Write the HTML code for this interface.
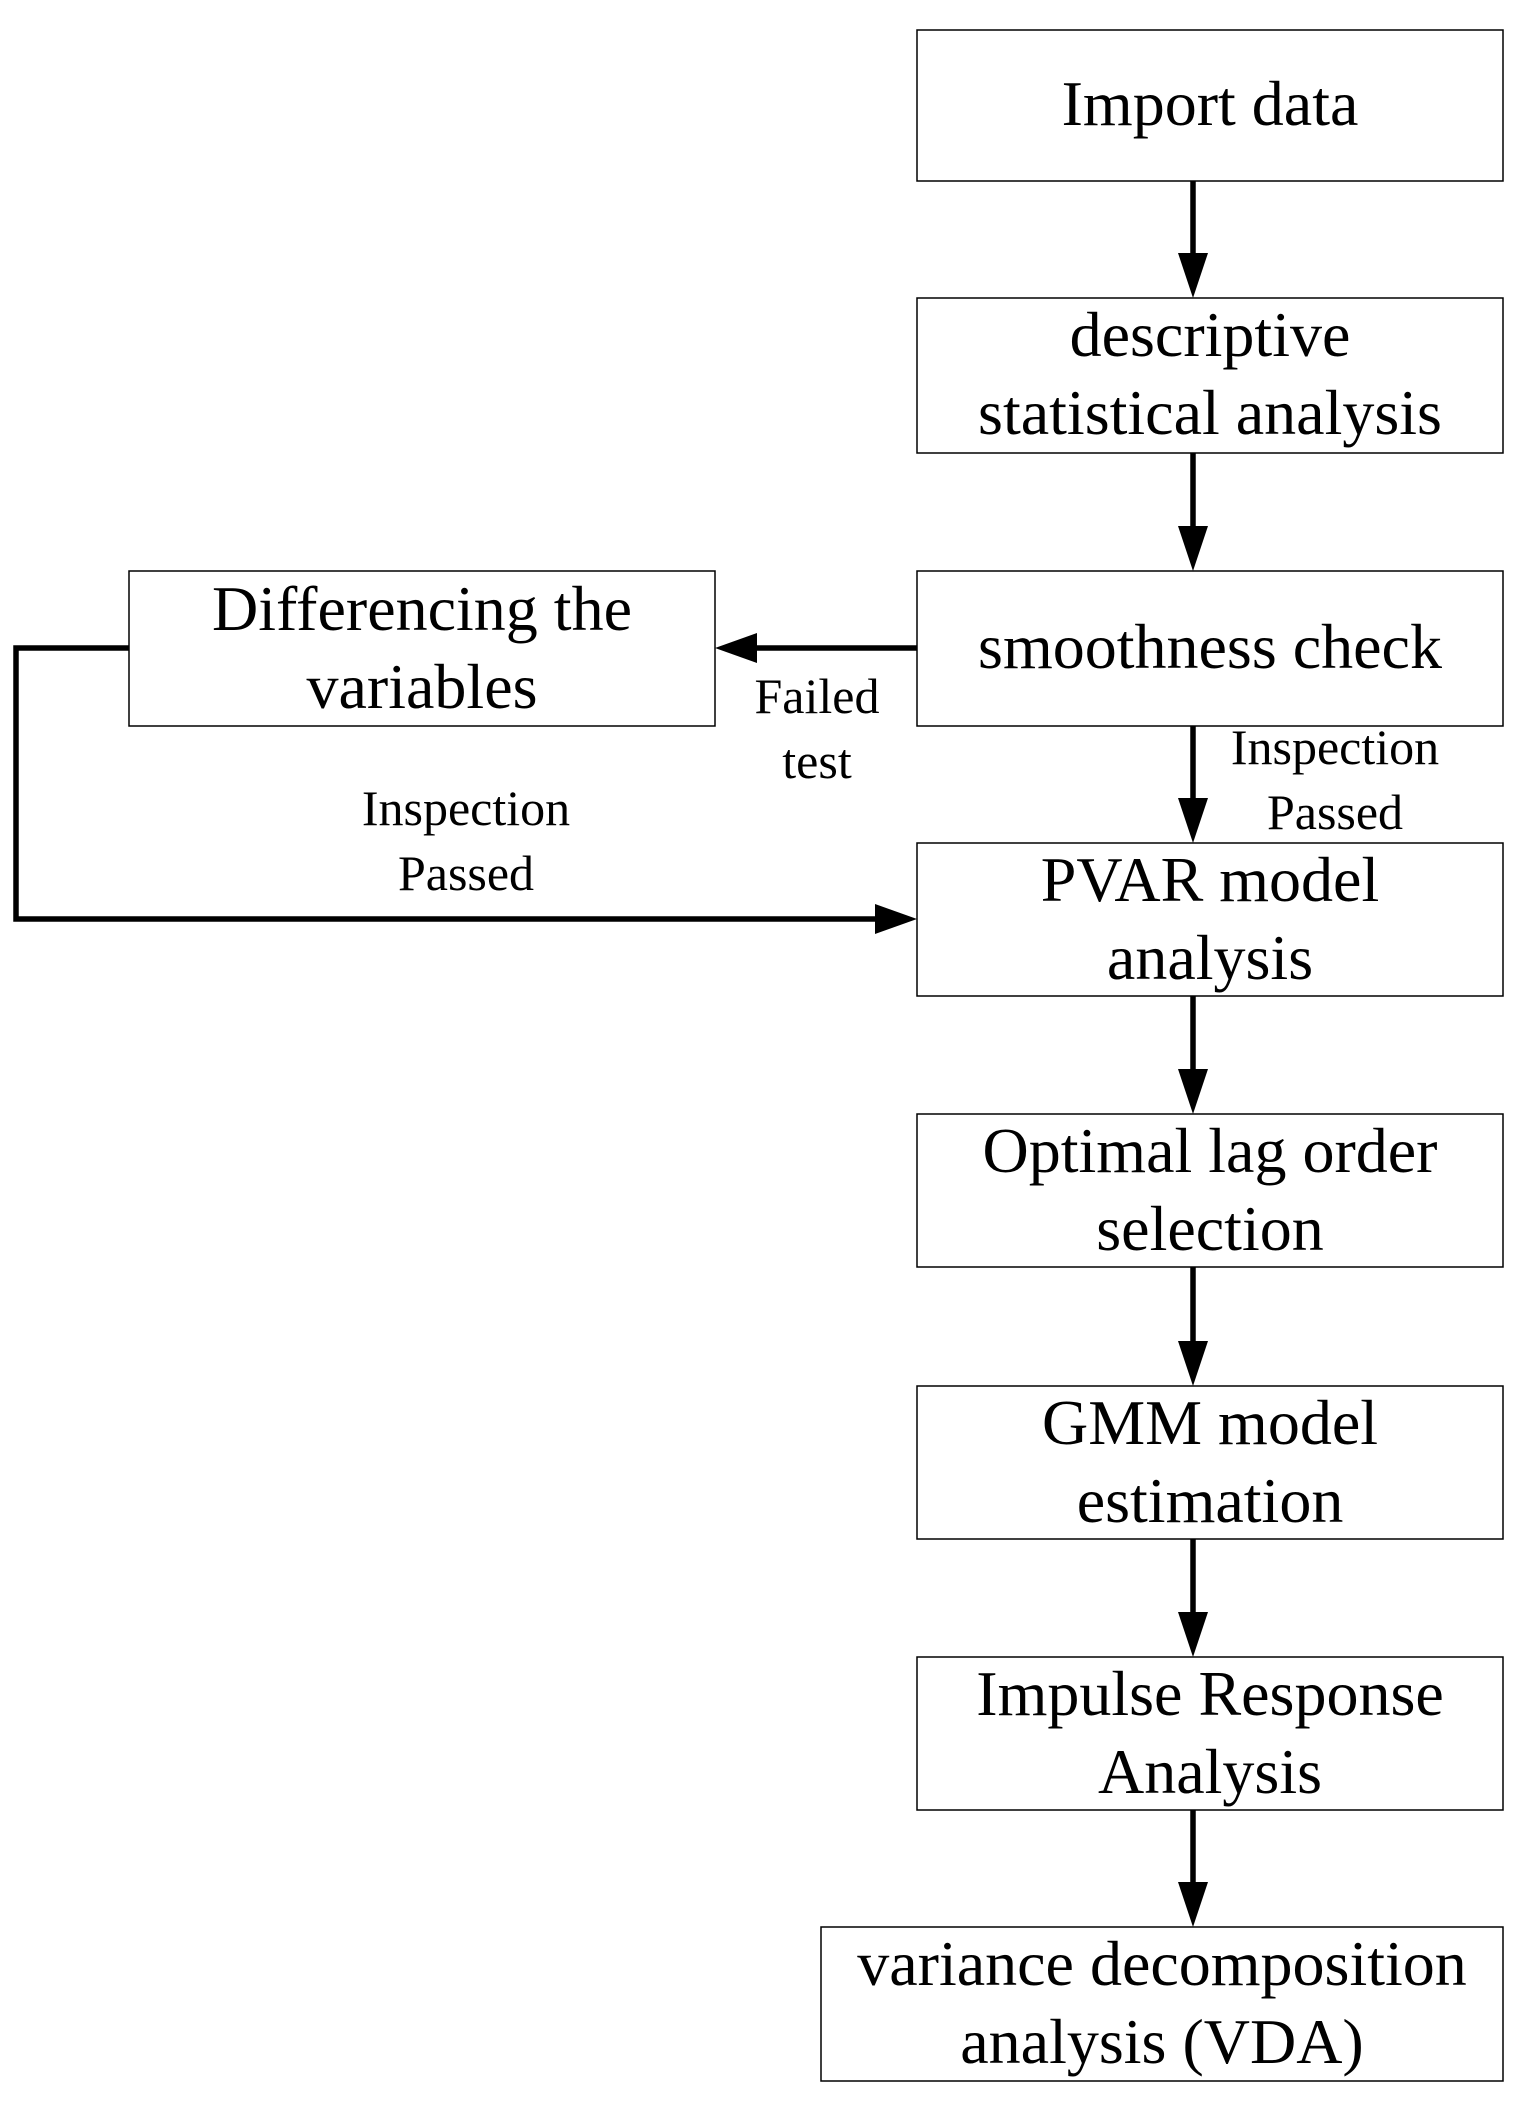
<!DOCTYPE html>
<html><head><meta charset="utf-8"><style>
html,body{margin:0;padding:0;background:#fff;}
svg{display:block;}
text{font-family:"Liberation Serif",serif;fill:#000;}
</style></head><body>
<svg width="1519" height="2103" viewBox="0 0 1519 2103" xmlns="http://www.w3.org/2000/svg">
<defs>
<marker id="a" markerWidth="10" markerHeight="8" refX="10" refY="4" orient="auto" markerUnits="userSpaceOnUse" viewBox="0 0 10 8">
</marker>
</defs>
<g fill="#fff" stroke="#000" stroke-width="1.5">
<rect x="917" y="30" width="586" height="151"/>
<rect x="917" y="298" width="586" height="155"/>
<rect x="917" y="571" width="586" height="155"/>
<rect x="129" y="571" width="586" height="155"/>
<rect x="917" y="843" width="586" height="153"/>
<rect x="917" y="1114" width="586" height="153"/>
<rect x="917" y="1386" width="586" height="153"/>
<rect x="917" y="1657" width="586" height="153"/>
<rect x="821" y="1927" width="682" height="154"/>
</g>
<g stroke="#000" stroke-width="5.5" fill="none">
<line x1="1193" y1="181" x2="1193" y2="255"/>
<line x1="1193" y1="453" x2="1193" y2="528"/>
<line x1="1193" y1="726" x2="1193" y2="800"/>
<line x1="1193" y1="996" x2="1193" y2="1071"/>
<line x1="1193" y1="1267" x2="1193" y2="1343"/>
<line x1="1193" y1="1539" x2="1193" y2="1614"/>
<line x1="1193" y1="1810" x2="1193" y2="1884"/>
<line x1="917" y1="648" x2="755" y2="648"/>
<polyline points="129,648 16,648 16,919 877,919"/>
</g>
<g fill="#000">
<polygon points="1178,253 1208,253 1193,298"/>
<polygon points="1178,526 1208,526 1193,571"/>
<polygon points="1178,798 1208,798 1193,843"/>
<polygon points="1178,1069 1208,1069 1193,1114"/>
<polygon points="1178,1341 1208,1341 1193,1386"/>
<polygon points="1178,1612 1208,1612 1193,1657"/>
<polygon points="1178,1882 1208,1882 1193,1927"/>
<polygon points="757,633 757,663 715,648"/>
<polygon points="875,904 875,934 917,919"/>
</g>
<g font-size="64" text-anchor="middle">
<text x="1210" y="125">Import data</text>
<text x="1210" y="356">descriptive</text>
<text x="1210" y="434">statistical analysis</text>
<text x="1210" y="668">smoothness check</text>
<text x="422" y="630">Differencing the</text>
<text x="422" y="708">variables</text>
<text x="1210" y="901">PVAR model</text>
<text x="1210" y="979">analysis</text>
<text x="1210" y="1172">Optimal lag order</text>
<text x="1210" y="1250">selection</text>
<text x="1210" y="1444">GMM model</text>
<text x="1210" y="1522">estimation</text>
<text x="1210" y="1715">Impulse Response</text>
<text x="1210" y="1793">Analysis</text>
<text x="1162" y="1985">variance decomposition</text>
<text x="1162" y="2063">analysis (VDA)</text>
</g>
<g font-size="50" text-anchor="middle">
<text x="817" y="713">Failed</text>
<text x="817" y="778">test</text>
<text x="1335" y="764">Inspection</text>
<text x="1335" y="829">Passed</text>
<text x="466" y="825">Inspection</text>
<text x="466" y="890">Passed</text>
</g>
</svg>
</body></html>
